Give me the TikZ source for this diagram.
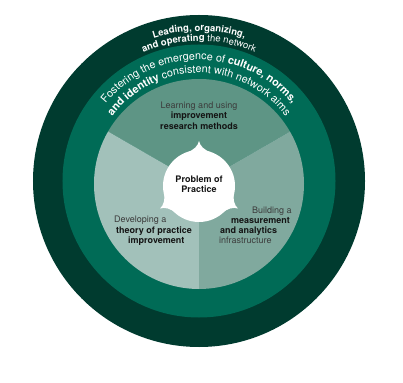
\documentclass[tikz,border=0pt]{standalone}
\usepackage{fontspec}
\setmainfont{TeX Gyre Heros}
\usetikzlibrary{decorations.text}
\definecolor{ringdark}{HTML}{003B2F}
\definecolor{ringteal}{HTML}{006B56}
\definecolor{sectop}{HTML}{5E9585}
\definecolor{secright}{HTML}{80A99E}
\definecolor{secleft}{HTML}{A2C1BA}
\definecolor{txtgray}{HTML}{3C3C3C}
\definecolor{txtdark}{HTML}{141414}
\newcommand{\outerbf}{\color{white}\fontsize{9.5}{11}\selectfont\bfseries}
\newcommand{\outermd}{\color{white}\fontsize{9.5}{11}\selectfont\mdseries}
\newcommand{\tealbf}{\color{white}\fontsize{10.8}{12}\selectfont\bfseries}
\newcommand{\tealmd}{\color{white}\fontsize{10.8}{12}\selectfont\mdseries}
\newcommand{\emphdark}[1]{{\color{txtdark}\bfseries #1}}

\begin{document}
\begin{tikzpicture}[
    x=1pt, y=1pt,
    every node/.style={font=\fontsize{9}{10.3}\selectfont, inner sep=0pt},
    sector/.style={fill=#1},
    sectortext/.style={align=#1, text=txtgray},
    ringtext/.style={decorate, decoration={text along path, text align=center, text={#1}}},
  ]
  \useasboundingbox (-199,-201) rectangle (204,181);

  % rings
  \fill[ringdark] (0,0) circle[radius=166];
  \fill[ringteal] (0,0) circle[radius=136.5];

  % three sectors
  \coordinate (c) at (0,-3);
  \fill[sector=sectop] (c) -- ++(30:105) arc[start angle=30, end angle=150, radius=105] -- cycle;
  \fill[sector=secleft] (c) -- ++(150:105) arc[start angle=150, end angle=270, radius=105] -- cycle;
  \fill[sector=secright] (c) -- ++(270:105) arc[start angle=270, end angle=390, radius=105] -- cycle;

  % curved ring labels
  \path[ringtext={|\outerbf|Leading, organizing,}] (150:150) arc[start angle=150, end angle=30, radius=150];
  \path[ringtext={|\outerbf|and operating|\outermd| the network}] (150:140) arc[start angle=150, end angle=30, radius=140];
  \path[ringtext={|\tealmd|Fostering the emergence of |\tealbf|culture, norms,}] (170:121) arc[start angle=170, end angle=10, radius=121];
  \path[ringtext={|\tealbf|and identity|\tealmd| consistent with network aims}] (170:108) arc[start angle=170, end angle=10, radius=108];

  % problem of practice
  \begin{scope}[shift={(0,-5)}]
    \fill[white] (0,0) circle[radius=36];
    \foreach \a in {90,210,330}
      \fill[white] (\a+20:35.5) .. controls (\a+8:36.5) and (\a+1.5:40) .. (\a:45)
        .. controls (\a-1.5:40) and (\a-8:36.5) .. (\a-20:35.5) -- cycle;
  \end{scope}
  \node[font=\fontsize{9}{10}\selectfont\bfseries, text=txtdark, align=center] (problem) at (0,-3.5) {Problem of\\Practice};

  \node[sectortext=center] (methods) at (0,65.5)
    {Learning and using\\\emphdark{improvement}\\\emphdark{research methods}};
  \node[sectortext=left, anchor=west] (theory) at (-85,-50)
    {Developing a\\\hspace*{2pt}\emphdark{theory of practice}\\\hspace*{14pt}\emphdark{improvement}};
  \node[sectortext=left, anchor=west] (measure) at (20,-44.3)
    {\hspace*{33pt}Building a\\\hspace*{12pt}\emphdark{measurement}\\\hspace*{1pt}\emphdark{and analytics}\\infrastructure};
\end{tikzpicture}
\end{document}
